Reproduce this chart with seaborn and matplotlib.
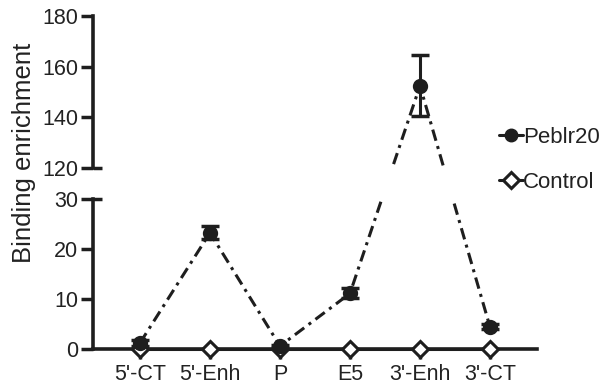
import numpy as np
import pandas as pd
import matplotlib
matplotlib.use("Agg")
import matplotlib.pyplot as plt
import matplotlib.transforms as mtransforms
from matplotlib.lines import Line2D
import seaborn as sns

# ---- data ----
categories = ["5'-CT", "5'-Enh", "P", "E5", "3'-Enh", "3'-CT"]
peblr20 = [1.2, 23.2, 0.6, 11.1, 152.4, 4.4]
peblr20_err = [0.5, 1.3, 0.3, 1.0, 12.1, 0.5]
control = [0, 0, 0, 0, 0, 0]
series_names = ["Peblr20", "Control"]
y_ticks = [0, 10, 20, 30, 120, 140, 160, 180]

# ---- style ----
sns.set_style("ticks")
plt.rcParams["font.family"] = ["Liberation Sans", "DejaVu Sans"]
C = "#1e1e1e"
TXT = "#222222"

# broken y-axis as a piecewise-linear scale
LOW_TOP, HIGH_BOT, GAP, HIGH_F = 30.0, 120.0, 6.2, 0.505


def fwd(y):
    y = np.asarray(y, dtype=float)
    return np.where(y <= LOW_TOP, y,
                    np.where(y < HIGH_BOT,
                             LOW_TOP + (y - LOW_TOP) * GAP / (HIGH_BOT - LOW_TOP),
                             LOW_TOP + GAP + (y - HIGH_BOT) * HIGH_F))


def inv(t):
    t = np.asarray(t, dtype=float)
    return np.where(t <= LOW_TOP, t,
                    np.where(t < LOW_TOP + GAP,
                             LOW_TOP + (t - LOW_TOP) * (HIGH_BOT - LOW_TOP) / GAP,
                             HIGH_BOT + (t - LOW_TOP - GAP) / HIGH_F))


fig = plt.figure(figsize=(6.03, 3.90), dpi=100)
ax = fig.add_axes([0.1542, 0.1051, 0.7363, 0.854])
ax.set_yscale("function", functions=(fwd, inv))

pos = np.arange(len(categories))
df = pd.DataFrame({
    "pos": np.concatenate([pos, pos]),
    "value": control + peblr20,
    "series": ["Control"] * len(pos) + ["Peblr20"] * len(pos),
})

# error bars (below the markers)
ax.errorbar(pos, peblr20, yerr=peblr20_err, fmt="none", ecolor=C,
            elinewidth=2.2, capsize=6.5, capthick=2.5, zorder=1.8, clip_on=False)

sns.lineplot(data=df, x="pos", y="value", hue="series", style="series",
             hue_order=["Control", "Peblr20"], style_order=["Control", "Peblr20"],
             palette={"Control": C, "Peblr20": C},
             dashes={"Control": "", "Peblr20": (3.8, 1.8, 1.0, 1.8)},
             markers={"Control": "D", "Peblr20": "o"},
             linewidth=2.2, markersize=9, markeredgewidth=2.0,
             markeredgecolor=C, errorbar=None, sort=False, legend=False,
             ax=ax, clip_on=False)

for ln in ax.lines:
    if ln.get_marker() == "D":
        ln.set_markerfacecolor("white")
        ln.set_markersize(8.5)
        ln.set_markeredgewidth(2.2)
        ln.set_zorder(2.1)
    elif ln.get_marker() == "o":
        ln.set_zorder(2.2)

# blank the gap between the two axis segments
ax.axhspan(LOW_TOP, HIGH_BOT, color="white", lw=0, zorder=2.6)

ax.set_xlim(-0.671, 5.671)
ax.set_ylim(0, 180)
ax.set_xticks(pos)
ax.set_xticklabels(categories)
ax.set_yticks(y_ticks)
ax.set_yticklabels([str(v) for v in y_ticks])
ax.set_xlabel("")
ax.set_ylabel("Binding enrichment", fontsize=18.5, color=TXT)
ax.yaxis.set_label_coords(-0.128, 0.589)

ax.tick_params(axis="both", colors=C, width=2.5, labelsize=15.5, labelcolor=TXT)
ax.tick_params(axis="y", length=9, pad=1.5)
ax.tick_params(axis="x", length=7.5, pad=3.5)

for s in ["top", "right", "left"]:
    ax.spines[s].set_visible(False)
ax.spines["bottom"].set_linewidth(2.6)
ax.spines["bottom"].set_color(C)
ax.spines["bottom"].set_zorder(2.0)

# broken left spine + break marks
bt = mtransforms.blended_transform_factory(ax.transAxes, ax.transData)
for y0, y1 in [(0, LOW_TOP), (HIGH_BOT, 180)]:
    ax.plot([0, 0], [y0, y1], transform=bt, color=C, lw=2.6,
            clip_on=False, zorder=3, solid_capstyle="projecting")
for yb in [LOW_TOP, HIGH_BOT]:
    ax.plot([0, 0.021], [yb, yb], transform=bt, color=C, lw=2.5,
            clip_on=False, zorder=3, solid_capstyle="butt")

# legend
handles = [
    Line2D([], [], color=C, lw=2.2, marker="o", markersize=9,
           markeredgecolor=C, markerfacecolor=C),
    Line2D([], [], color=C, lw=2.2, marker="D", markersize=8.5,
           markeredgewidth=2.2, markeredgecolor=C, markerfacecolor="white"),
]
fig.legend(handles, series_names, loc="center left",
           bbox_to_anchor=(0.827, 0.59), frameon=False, fontsize=16,
           handlelength=1.1, handletextpad=0.0, labelspacing=1.05,
           borderpad=0, borderaxespad=0, labelcolor=TXT)

fig.savefig("out.png", dpi=100)
